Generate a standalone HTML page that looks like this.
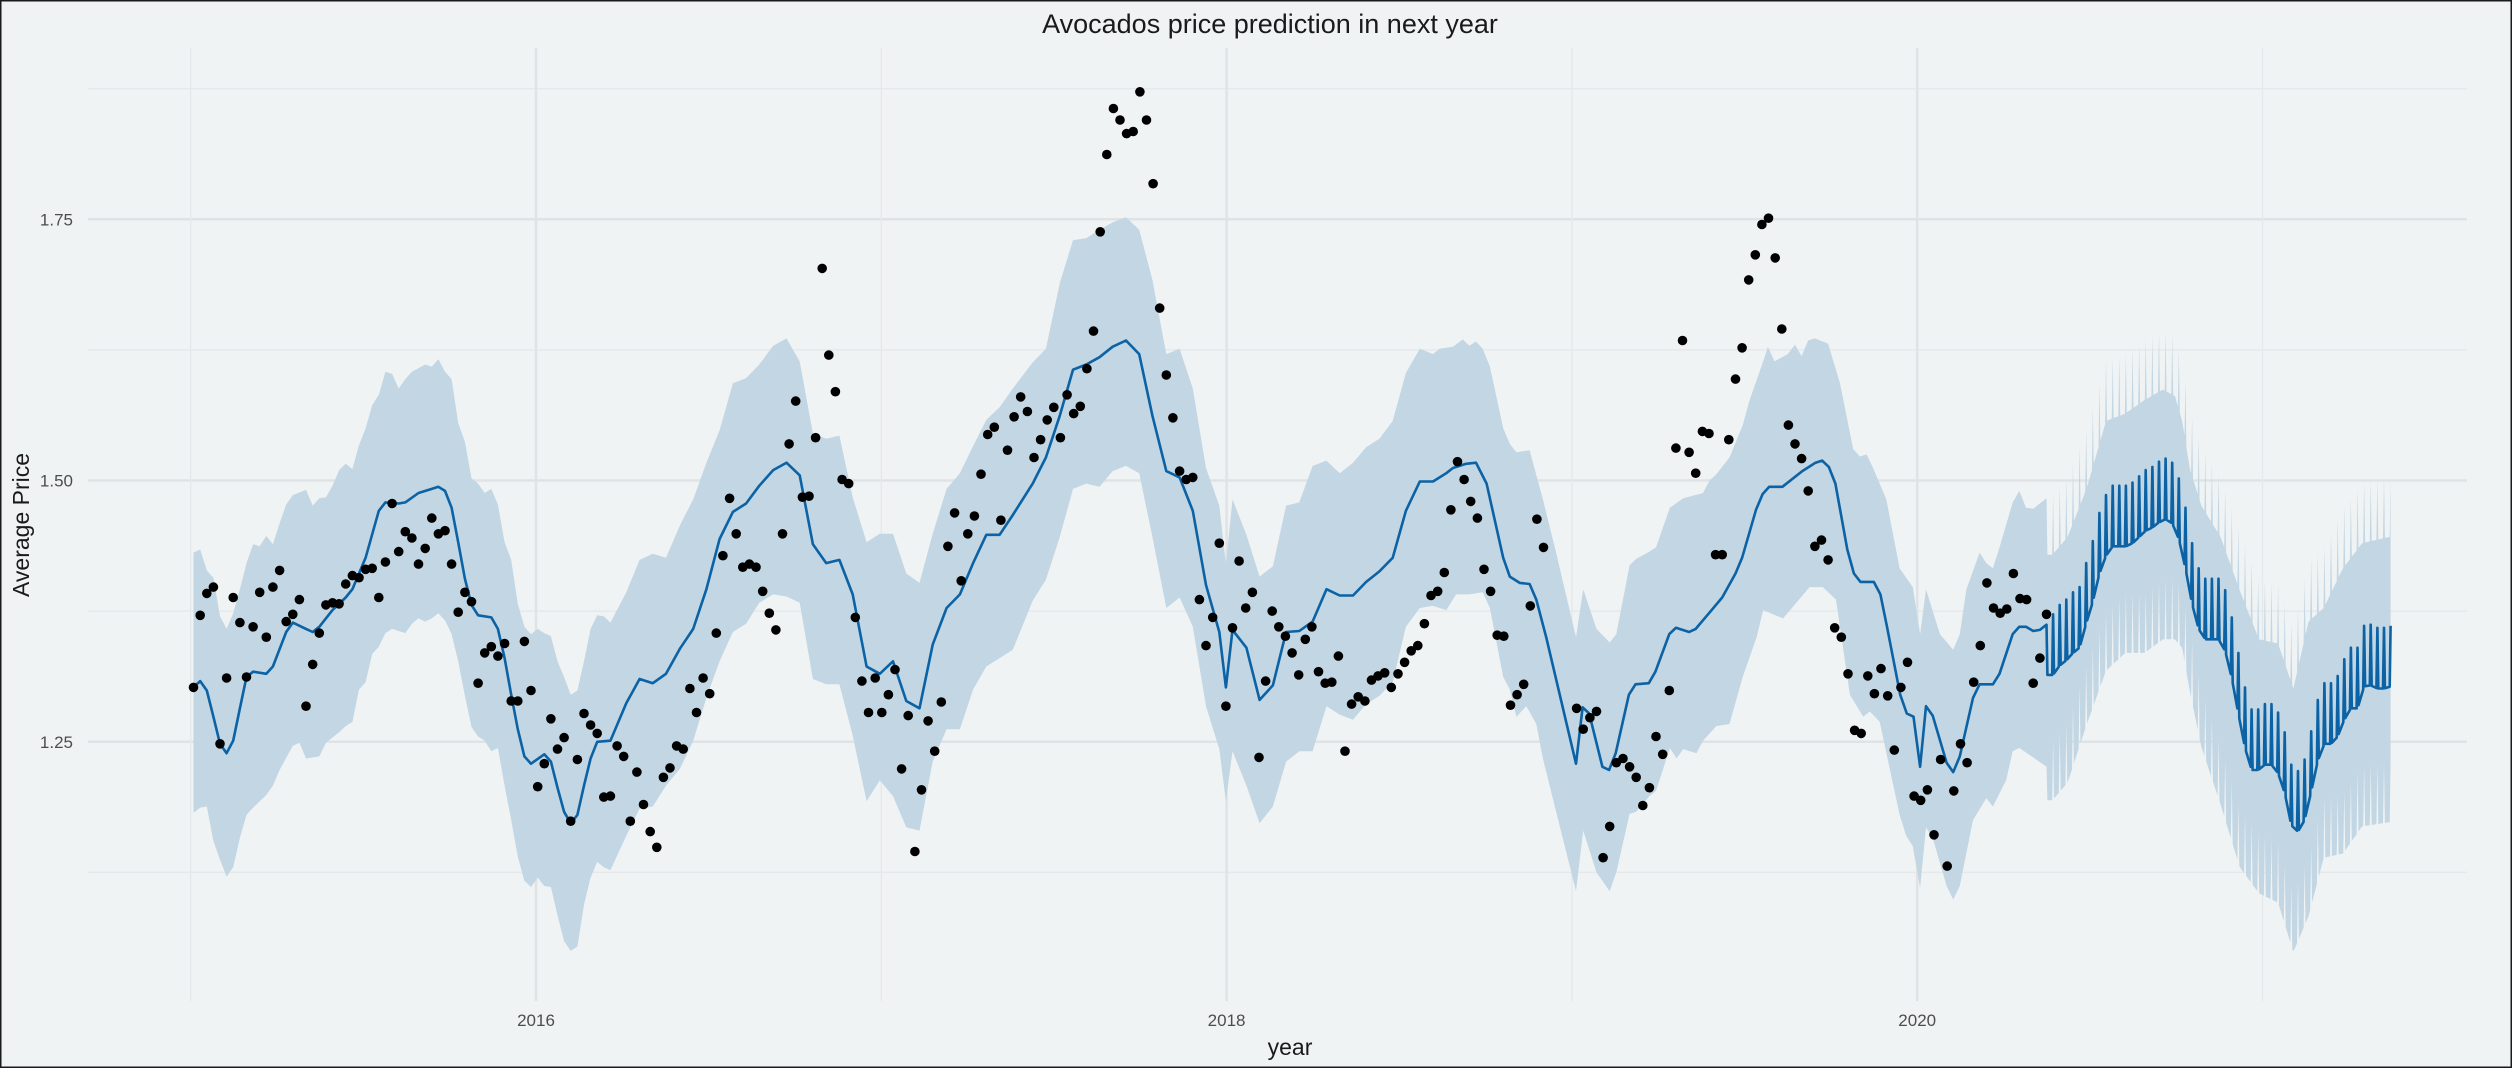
<!DOCTYPE html>
<html><head><meta charset="utf-8"><title>Avocados price prediction</title>
<style>
html,body{margin:0;padding:0;background:#f0f3f4;}
svg{display:block;font-family:"Liberation Sans",Arial,sans-serif;}
</style></head>
<body>
<svg id="chart" width="2512" height="1068" viewBox="0 0 2512 1068" xmlns="http://www.w3.org/2000/svg">
<rect x="0" y="0" width="2512" height="1068" fill="#f0f3f4" stroke="#1a1a1a" stroke-width="3"/>
<g id="grid"></g>
<g id="bands"></g>
<g id="lines"></g>
<g id="points"></g>
<g id="axes"></g>
<text x="1270" y="33" text-anchor="middle" font-size="27" fill="#1a1a1a">Avocados price prediction in next year</text>
<text x="1290" y="1055" text-anchor="middle" font-size="23" fill="#1a1a1a">year</text>
<text transform="translate(29,525) rotate(-90)" text-anchor="middle" font-size="23" fill="#1a1a1a">Average Price</text>
</svg>
<script>
// ---- data (week index from 2015-01-04, weekly) ----
const yTicks = [1.25, 1.50, 1.75];
const yTickLabels = ["1.25", "1.50", "1.75"];
const yMinorTicks = [1.125, 1.375, 1.625, 1.875];
const xTicks = [2016, 2018, 2020];
const xTickLabels = ["2016", "2018", "2020"];
const xMinorTicks = [2015, 2017, 2019, 2021];

const observedPrice = [
1.302,1.371,1.392,1.398,1.248,1.311,1.388,1.364,1.312,1.360,
1.393,1.350,1.398,1.414,1.365,1.372,1.386,1.284,1.324,1.354,
1.381,1.383,1.382,1.401,1.409,1.407,1.415,1.416,1.388,1.422,
1.478,1.432,1.451,1.445,1.420,1.435,1.464,1.449,1.452,1.420,
1.374,1.393,1.384,1.306,1.335,1.341,1.332,1.344,1.289,1.289,
1.346,1.299,1.207,1.229,1.272,1.243,1.254,1.174,1.233,1.277,
1.266,1.258,1.197,1.198,1.246,
1.236,1.174,1.221,1.190,1.164,1.149,1.216,1.225,1.246,1.243,
1.301,1.278,1.311,1.296,1.354,1.428,1.483,1.449,1.417,1.420,
1.417,1.394,1.373,1.357,1.449,1.535,1.576,1.484,1.485,1.541,
1.703,1.620,1.585,1.501,1.497,1.369,1.308,1.278,1.311,1.278,
1.295,1.319,1.224,1.275,1.145,1.204,1.270,1.241,1.288,1.437,
1.469,1.404,1.449,1.466,1.506,1.544,1.551,1.462,1.529,1.561,
1.580,1.566,1.522,1.539,
1.558,1.570,1.541,1.582,1.564,1.571,1.607,1.643,1.738,1.812,
1.856,1.845,1.832,1.834,1.872,1.845,1.784,1.665,1.601,1.560,
1.509,1.501,1.503,1.386,1.342,1.369,1.440,1.284,1.359,1.423,
1.378,1.393,1.235,1.308,1.375,1.360,1.351,1.335,1.314,1.348,
1.360,1.317,1.306,1.307,1.332,1.241,1.286,1.293,1.289,1.309,
1.313,1.316,1.302,1.315,1.326,1.337,1.342,1.363,1.390,1.394,
1.412,1.472,1.518,
1.501,1.480,1.464,1.415,1.394,1.352,1.351,1.285,1.295,1.305,1.380,1.463,1.436,
null,null,null,null,
1.282,1.262,1.273,1.279,1.139,1.169,1.230,1.234,1.226,1.216,
1.189,1.206,1.255,1.238,1.299,1.531,1.634,1.527,1.507,1.547,
1.545,1.429,1.429,1.539,1.597,1.627,1.692,1.716,1.745,1.751,
1.713,1.645,1.553,1.535,1.521,1.490,1.437,1.443,1.424,1.359,
1.350,1.315,1.261,1.258,1.313,1.296,1.320,1.294,1.242,1.302,
1.326,1.198,1.194,1.204,1.161,1.233,1.131,1.203,1.248,1.230,
1.307,1.342,1.402,1.378,1.373,1.377,1.411,1.387,1.386,1.306,
1.330,1.372
];

const fitWeeks = [0,1,2,3,4,5,6,7,8,9,11,12,14,15,17,18,19,21,23,24,26,28,29,31,32,34,36,37,38,39,40,41,42,43,45,46,47,48,49,50,51,53,54,55,56,57,58,59,60,61,63,
65.4,67.4,69.4,71.4,73.5,75.5,77.5,79.5,81.5,83.5,85.5,87.6,89.6,91.6,93.6,95.6,97.6,99.6,101.7,103.7,105.7,107.7,109.7,111.7,113.8,115.8,117.8,119.8,121.8,123.8,
126.8,128.8,130.9,132.9,134.9,136.9,138.9,140.9,142.9,144.9,147.0,149.0,151.0,153.0,155.0,156.0,157.0,159.1,161.1,163.1,165.1,167.1,169.1,171.2,173.2,175.2,177.2,179.2,181.2,183.2,185.3,187.3,189.3,
190.3,192.3,193.8,195.4,197.9,198.9,200.4,201.9,202.9,204.4,208.9,209.9,210.9,212.9,213.9,214.9,216.9,217.9,219.9,220.9,223.0,224.0,226.0,227.0,229.0,231.0,233.0,234.0,236.1,237.1,238.1,240.1,243.1,245.1,246.1,247.1,248.1,
249.9,250.9,251.9,253.9,254.9,255.9,257.9,258.9,259.9,260.9,261.8,262.8,264.9,265.9,266.9,268.9,269.9,271.9,272.9,274.9,275.9,276.9,278.0,279.0,280];
const fitValues = [1.302,1.308,1.299,1.274,1.248,1.239,1.251,1.282,1.312,1.317,1.315,1.322,1.355,1.364,1.358,1.355,1.360,1.376,1.388,1.396,1.426,1.471,1.479,1.478,1.479,1.488,1.492,1.494,1.490,1.474,1.441,1.406,1.381,1.371,1.369,1.358,1.330,1.295,1.262,1.236,1.229,1.238,1.231,1.206,1.183,1.172,1.180,1.208,1.234,1.250,1.251,
1.287,1.310,1.306,1.315,1.339,1.358,1.396,1.444,1.470,1.478,1.495,1.510,1.517,1.505,1.439,1.421,1.424,1.391,1.322,1.315,1.327,1.289,1.282,1.343,1.378,1.391,1.421,1.448,1.448,1.467,
1.497,1.522,1.562,1.606,1.611,1.618,1.628,1.634,1.621,1.562,1.509,1.503,1.471,1.400,1.355,1.302,1.357,1.340,1.290,1.304,1.355,1.356,1.365,1.396,1.390,1.390,1.403,1.413,1.426,1.471,1.499,1.499,1.507,
1.512,1.516,1.517,1.497,1.426,1.408,1.402,1.401,1.386,1.350,1.229,1.283,1.277,1.226,1.223,1.239,1.295,1.305,1.306,1.317,1.353,1.359,1.355,1.358,1.373,1.388,1.411,1.426,1.472,1.487,1.494,1.494,1.509,1.517,1.519,1.513,1.497,
1.434,1.411,1.403,1.403,1.391,1.360,1.295,1.277,1.274,1.226,1.284,1.275,1.230,1.221,1.236,1.292,1.305,1.305,1.315,1.353,1.360,1.360,1.356,1.357,1.362];

const upperWeeks = [0,1,2,3,4,5,6,7,8,9,10,11,12,13,14,15,17,18,19,20,21,22,23,24,25,26,27,28,29,30,31,32,33,35,36,37,38,39,40,41,42,43,44,45,46,47,48,49,50,51,52,53,54,55,56,57,58,59,60,61,62,63,
65.4,67.4,69.4,71.4,73.5,75.5,77.5,79.5,81.5,83.5,85.5,87.6,89.6,91.6,93.6,95.6,97.6,99.6,101.7,103.7,105.7,107.7,109.7,111.7,113.8,115.8,117.8,119.8,121.8,123.8,
126.8,128.8,130.9,132.9,134.9,136.9,138.9,140.9,142.9,144.9,147.0,149.0,151.0,153.0,155.0,156.0,157.0,159.1,161.1,163.1,165.1,167.1,169.1,171.2,173.2,175.2,177.2,179.2,181.2,183.2,185.3,187.3,
188.3,190.3,191.8,192.8,193.8,194.8,195.9,197.9,198.9,199.9,201.9,203.9,205.9,208.9,210.0,212.0,214.0,215.0,217.0,218.0,220.0,221.0,223.1,225.1,228.1,229.1,230.1,232.1,234.1,235.1,237.2,237.9,238.9,240.9,242.0,243.0,244.0,245.0,247.0,248.8,250.8,251.8,252.8,253.8,
255.8,257.8,259.8,260.9,261.8,263.9,265.9,266.9,267.9,269.9,270.9,271.9,272.9,274.9,275.9,276.9,278.0,280];
const upperValues = [1.431,1.434,1.414,1.407,1.370,1.358,1.373,1.396,1.421,1.439,1.437,1.447,1.439,1.459,1.477,1.486,1.491,1.476,1.483,1.484,1.495,1.510,1.516,1.511,1.534,1.550,1.572,1.582,1.604,1.602,1.588,1.597,1.604,1.611,1.609,1.616,1.604,1.597,1.555,1.537,1.502,1.497,1.488,1.492,1.477,1.441,1.424,1.382,1.360,1.353,1.358,1.354,1.351,1.327,1.312,1.295,1.299,1.327,1.358,1.371,1.370,1.364,
1.393,1.424,1.430,1.426,1.457,1.482,1.517,1.548,1.593,1.598,1.611,1.629,1.636,1.614,1.545,1.540,1.543,1.484,1.441,1.449,1.449,1.411,1.402,1.449,1.492,1.507,1.533,1.558,1.570,1.588,
1.613,1.626,1.689,1.730,1.732,1.740,1.747,1.752,1.740,1.692,1.621,1.626,1.588,1.512,1.476,1.420,1.482,1.448,1.408,1.418,1.476,1.479,1.514,1.519,1.507,1.517,1.532,1.540,1.557,1.603,1.626,1.621,
1.626,1.628,1.635,1.629,1.633,1.626,1.609,1.550,1.535,1.527,1.529,1.482,1.431,1.350,1.396,1.358,1.345,1.353,1.419,1.425,1.432,1.436,1.474,1.483,1.488,1.500,1.506,1.522,1.553,1.576,1.614,1.628,1.614,1.621,1.630,1.619,1.634,1.636,1.631,1.593,1.530,1.523,1.525,1.512,
1.482,1.416,1.398,1.353,1.396,1.353,1.338,1.353,1.396,1.431,1.421,1.416,1.436,1.479,1.490,1.474,1.473,1.483];

const lowerWeeks = [0,1,2,3,4,5,6,7,8,9,11,12,13,15,16,17,19,20,22,23,24,25,26,27,28,29,30,32,33,34,35,36,37,38,39,40,41,42,43,44,45,46,47,48,49,50,51,52,53,54,55,56,57,58,59,60,61,62,63,
65.4,67.4,69.4,71.4,73.5,75.5,77.5,79.5,81.5,83.5,85.5,87.6,89.6,91.6,93.6,95.6,97.6,99.6,101.7,103.7,105.7,107.7,109.7,111.7,113.8,115.8,117.8,119.8,121.8,123.8,
126.8,128.8,130.9,132.9,134.9,136.9,138.9,140.9,142.9,144.9,147.0,149.0,151.0,153.0,155.0,156.0,157.0,159.1,161.1,163.1,165.1,167.1,169.1,171.2,173.2,175.2,177.2,179.2,181.2,183.2,185.3,187.3,
189.3,190.8,192.8,194.8,195.9,197.9,198.9,199.9,201.4,202.9,203.9,205.9,208.9,210.0,212.0,214.0,215.0,217.0,218.0,220.0,221.0,223.1,224.1,225.1,227.1,228.1,230.1,232.1,234.1,236.2,237.2,240.2,242.2,244.2,246.2,248.2,250.3,252.3,253.3,254.8,
257.8,258.8,259.8,260.9,261.8,262.8,264.9,265.9,266.9,268.9,270.9,271.9,273.9,274.9,275.9,278.0,280];
const lowerValues = [1.182,1.187,1.188,1.155,1.137,1.121,1.130,1.158,1.180,1.187,1.199,1.208,1.223,1.246,1.249,1.234,1.236,1.249,1.259,1.265,1.269,1.300,1.307,1.334,1.341,1.354,1.358,1.354,1.363,1.368,1.365,1.368,1.373,1.366,1.353,1.327,1.294,1.264,1.255,1.251,1.241,1.244,1.208,1.175,1.140,1.117,1.111,1.120,1.112,1.111,1.084,1.059,1.050,1.054,1.094,1.120,1.135,1.130,1.127,
1.160,1.186,1.188,1.208,1.224,1.251,1.292,1.327,1.355,1.363,1.383,1.391,1.389,1.383,1.310,1.305,1.305,1.256,1.193,1.213,1.198,1.168,1.165,1.231,1.262,1.262,1.300,1.322,1.330,1.338,
1.385,1.405,1.446,1.492,1.497,1.494,1.509,1.514,1.507,1.446,1.378,1.388,1.360,1.284,1.243,1.193,1.241,1.208,1.172,1.188,1.231,1.241,1.241,1.284,1.276,1.271,1.286,1.294,1.307,1.360,1.378,1.380,
1.376,1.391,1.391,1.393,1.378,1.312,1.300,1.274,1.284,1.267,1.234,1.183,1.107,1.165,1.125,1.107,1.125,1.181,1.183,1.198,1.203,1.244,1.234,1.243,1.239,1.251,1.265,1.267,1.312,1.350,1.376,1.368,1.383,1.398,1.398,1.386,1.295,1.274,1.279,1.269,
1.180,1.160,1.150,1.110,1.168,1.158,1.112,1.099,1.112,1.175,1.196,1.188,1.213,1.241,1.244,1.235,1.226];

// future: weekly peak (observation weekday) values, other-day offset
const futureFirstWeek = 281;
const futureTop = [1.372,1.381,1.386,1.393,1.398,1.421,1.442,1.469,1.486,1.495,1.495,1.495,1.498,1.504,1.510,1.513,1.518,1.521,1.517,1.502,1.474,1.440,1.416,1.406,1.406,1.406,1.395,1.369,1.335,1.302,1.281,1.281,1.286,1.286,1.278,1.259,1.228,1.222,1.233,1.260,1.290,1.306,1.306,1.313,1.329,1.340,1.340,1.361,1.362,1.359,1.359,1.361];
const weekdayOffset = 0.058;
const futureBandWeeks = [280.9,283.2,286.1,289.0,291.9,294.8,297.6,299.4,300.5,301.7,303.4,306.3,309.2,312.1,315.0,317.3,319.6,321.9,324.8,327.7,331.8,332.5];
const futureUpper = [1.429,1.446,1.493,1.557,1.564,1.577,1.587,1.581,1.557,1.510,1.476,1.446,1.395,1.348,1.344,1.301,1.365,1.378,1.416,1.440,1.446,1.446];
const futureLower = [1.194,1.211,1.267,1.318,1.335,1.335,1.348,1.348,1.340,1.297,1.245,1.190,1.130,1.105,1.096,1.049,1.083,1.139,1.143,1.169,1.173,1.173];

// ---- scales ----
const X2015 = 190.7, PX_PER_YEAR = 345.3;
const PLOT_L = 88, PLOT_R = 2467, PLOT_T = 48, PLOT_B = 1001;
function xYear(y){ return X2015 + (y - 2015) * PX_PER_YEAR; }
function xWeek(w){ return xYear(2015 + (3 + 7 * w) / 365.25); }
function yVal(v){ return 480.5 - (v - 1.5) * 1045; }
const NS = "http://www.w3.org/2000/svg";
function mk(tag, attrs, parent){ const e = document.createElementNS(NS, tag); for (const k in attrs) e.setAttribute(k, attrs[k]); parent.appendChild(e); return e; }
function interp(ws, vs, w){
  if (w <= ws[0]) return vs[0];
  for (let i = 1; i < ws.length; i++) if (w <= ws[i]) { const t = (w - ws[i-1]) / (ws[i] - ws[i-1]); return vs[i-1] + t * (vs[i] - vs[i-1]); }
  return vs[vs.length - 1];
}

// ---- grid ----
const grid = document.getElementById('grid');
yMinorTicks.forEach(v => {
  const l = mk('line', {x1: PLOT_L, x2: PLOT_R, y1: yVal(v), y2: yVal(v), stroke: '#e6e9ec', 'stroke-width': 1.5}, grid);
  
  
});
yTicks.forEach(v => {
  const l = mk('line', {x1: PLOT_L, x2: PLOT_R, y1: yVal(v), y2: yVal(v), stroke: '#e0e3e6', 'stroke-width': 2.5}, grid);
  
  
});
xMinorTicks.forEach(y => {
  const l = mk('line', {x1: xYear(y), x2: xYear(y), y1: PLOT_T, y2: PLOT_B, stroke: '#e6e9ec', 'stroke-width': 1.5}, grid);
  
  
});
xTicks.forEach(y => {
  const l = mk('line', {x1: xYear(y), x2: xYear(y), y1: PLOT_T, y2: PLOT_B, stroke: '#e0e3e6', 'stroke-width': 2.5}, grid);
  
  
});

// ---- band ----
const bands = document.getElementById('bands');
const lastHist = 280;
let upPts = [], loPts = [];
for (let i = 0; i < upperWeeks.length; i++) upPts.push([xWeek(upperWeeks[i]), yVal(upperValues[i])]);
for (let i = 0; i < lowerWeeks.length; i++) loPts.push([xWeek(lowerWeeks[i]), yVal(lowerValues[i])]);
const nWeeks = futureTop.length;
for (let d = 1; d <= nWeeks * 7; d++) {
  const w = lastHist + d / 7;
  const spike = (d % 7 === 0);
  const off = spike ? weekdayOffset : 0;
  upPts.push([xWeek(w), yVal(interp(futureBandWeeks, futureUpper, w) + off)]);
  loPts.push([xWeek(w), yVal(interp(futureBandWeeks, futureLower, w) + off)]);
}
const bandPts = upPts.concat(loPts.slice().reverse());
const band = mk('polygon', {points: bandPts.map(p => p[0].toFixed(1) + ',' + p[1].toFixed(1)).join(' '), fill: '#c3d6e3', stroke: 'none'}, bands);



// ---- fitted + forecast line ----
const lines = document.getElementById('lines');
let linePts = [];
for (let i = 0; i < fitWeeks.length; i++) linePts.push([xWeek(fitWeeks[i]), yVal(fitValues[i])]);
for (let k = 0; k < nWeeks; k++) {
  const wStart = (k === 0) ? lastHist : futureFirstWeek + k - 1;
  const topStart = (k === 0) ? futureTop[0] : futureTop[k - 1];
  const topEnd = futureTop[k];
  if (k > 0) linePts.push([xWeek(wStart), yVal(topStart)]);
  linePts.push([xWeek(wStart + 1/7), yVal(topStart + (topEnd - topStart) / 7 - weekdayOffset)]);
  linePts.push([xWeek(wStart + 6/7), yVal(topStart + (topEnd - topStart) * 6 / 7 - weekdayOffset)]);
}
linePts.push([xWeek(futureFirstWeek + nWeeks - 1), yVal(futureTop[nWeeks - 1])]);
const line = mk('polyline', {points: linePts.map(p => p[0].toFixed(1) + ',' + p[1].toFixed(1)).join(' '), fill: 'none', stroke: '#0b62a4', 'stroke-width': 2.6, 'stroke-linejoin': 'round'}, lines);



// ---- points ----
const pts = document.getElementById('points');
observedPrice.forEach((v, i) => {
  if (v === null) return;
  const c = mk('circle', {cx: xWeek(i).toFixed(1), cy: yVal(v).toFixed(1), r: 4.8, fill: '#000'}, pts);
  
  
});

// ---- axes labels ----
const axes = document.getElementById('axes');
yTicks.forEach((v, i) => {
  const t = mk('text', {x: 73, y: yVal(v) + 6, 'text-anchor': 'end', 'font-size': 17, fill: '#4d4d4d'}, axes);
  t.textContent = yTickLabels[i];
  
  
});
xTicks.forEach((y, i) => {
  const t = mk('text', {x: xYear(y), y: 1026, 'text-anchor': 'middle', 'font-size': 17, fill: '#4d4d4d'}, axes);
  t.textContent = xTickLabels[i];
  
  
});
</script>
</body></html>
